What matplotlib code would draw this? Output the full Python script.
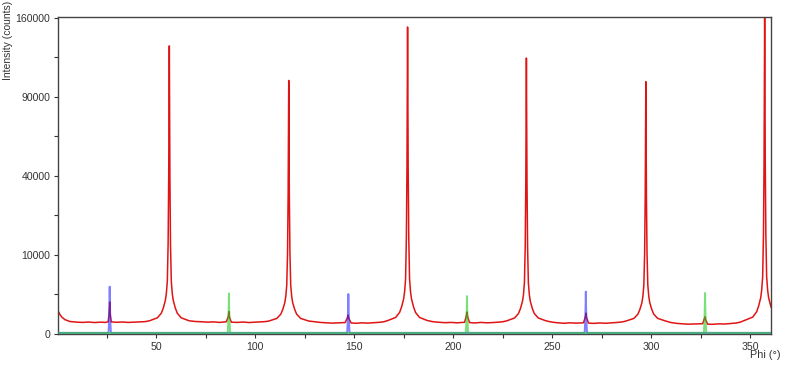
import numpy as np
import matplotlib
matplotlib.use("Agg")
import matplotlib.pyplot as plt
from matplotlib.ticker import FixedLocator

plt.rcParams['font.family'] = ['Liberation Sans', 'DejaVu Sans']

# red scan (phi in degrees, intensity in counts)
red_phi = [0.5, 1.5, 2.5, 4.0, 6.5, 10.0, 13.0, 16.0, 19.0, 22.0, 24.5,
           25.8, 26.3, 26.6, 26.9, 27.4, 30.0, 33.0, 36.0, 39.0, 42.0, 44.5,
           46.7, 50.7, 52.7, 53.7, 54.7, 55.2, 55.7, 56.1, 56.4, 56.6, 56.7,
           56.8, 57.0, 57.3, 57.7, 58.2, 58.7, 59.7, 60.7, 62.7, 66.7,
           70.0, 73.0, 76.0, 79.0, 82.0, 85.5, 86.5, 86.8, 87.1, 88.0,
           91.0, 94.0, 97.0, 100.0, 103.0, 105.0,
           107.0, 111.0, 113.0, 114.0, 115.0, 115.5, 116.0, 116.4, 116.7, 116.9, 117.0,
           117.1, 117.3, 117.6, 118.0, 118.5, 119.0, 120.0, 121.0, 123.0, 127.0,
           130.0, 133.0, 136.0, 139.0, 142.0, 145.5, 146.7, 147.0, 147.3, 148.5,
           151.0, 154.0, 157.0, 160.0, 163.0, 165.0,
           167.0, 171.0, 173.0, 174.0, 175.0, 175.5, 176.0, 176.4, 176.7, 176.9, 177.0,
           177.1, 177.3, 177.6, 178.0, 178.5, 179.0, 180.0, 181.0, 183.0, 187.0,
           190.0, 193.0, 196.0, 199.0, 202.0, 205.8, 206.7, 207.0, 207.3, 208.3,
           211.0, 214.0, 217.0, 220.0, 223.0, 225.0,
           227.0, 231.0, 233.0, 234.0, 235.0, 235.5, 236.0, 236.4, 236.7, 236.9, 237.0,
           237.1, 237.3, 237.6, 238.0, 238.5, 239.0, 240.0, 241.0, 243.0, 247.0,
           250.0, 253.0, 256.0, 259.0, 262.0, 265.8, 266.8, 267.1, 267.4, 268.4,
           271.0, 274.0, 277.0, 280.0, 283.0, 285.5,
           287.3, 291.3, 293.3, 294.3, 295.3, 295.8, 296.3, 296.7, 297.0, 297.2, 297.3,
           297.4, 297.6, 297.9, 298.3, 298.8, 299.3, 300.3, 301.3, 303.3, 307.3,
           310.0, 313.0, 316.0, 319.0, 322.0, 326.0, 326.9, 327.2, 327.5, 328.5,
           331.0, 334.0, 337.0, 340.0, 343.0, 345.0,
           347.3, 351.3, 353.3, 354.3, 355.3, 355.8, 356.3, 356.7, 357.0, 357.2, 357.3,
           357.4, 357.6, 357.9, 358.3, 358.8, 359.3, 360.5]
red_cnt = [870, 600, 450, 330, 250, 225, 215, 230, 210, 225, 215,
           240, 600, 1640, 600, 235, 220, 230, 215, 225, 235, 245,
           280, 420, 700, 1100, 1800, 2600, 4500, 13000, 40000, 98000, 133000,
           98000, 40000, 13000, 4500, 2600, 1800, 1100, 700, 420, 280,
           250, 240, 225, 235, 215, 240, 500, 800, 450, 225,
           215, 230, 210, 225, 235, 245,
           270, 390, 630, 970, 1560, 2240, 3850, 10500, 31000, 76000, 103000,
           76000, 31000, 10500, 3850, 2240, 1560, 970, 630, 390, 270,
           240, 215, 200, 190, 200, 210, 450, 580, 400, 195,
           185, 200, 190, 205, 220, 240,
           290, 440, 750, 1190, 1960, 2840, 4900, 15000, 45000, 110000, 151000,
           110000, 45000, 15000, 4900, 2840, 1960, 1190, 750, 440, 290,
           240, 220, 205, 215, 200, 220, 550, 780, 480, 210,
           195, 215, 200, 210, 225, 240,
           275, 410, 670, 1040, 1690, 2430, 4200, 12000, 37000, 90000, 122000,
           90000, 37000, 12000, 4200, 2430, 1690, 1040, 670, 410, 275,
           225, 200, 185, 200, 190, 200, 480, 700, 420, 190,
           180, 195, 185, 200, 215, 235,
           270, 390, 630, 970, 1560, 2240, 3850, 10500, 31000, 75000, 102000,
           75000, 31000, 10500, 3850, 2240, 1560, 970, 630, 390, 270,
           210, 180, 165, 155, 160, 170, 380, 480, 330, 155,
           150, 165, 160, 175, 195, 225,
           300, 460, 800, 1280, 2100, 3100, 5300, 16000, 48000, 118000, 162000,
           118000, 48000, 16000, 5300, 3100, 2100, 1170]

# blue scan
blue_phi = [0.5, 26.0, 26.3, 26.5, 26.6, 26.7, 26.9, 27.2,
            146.5, 146.8, 147.0, 147.1, 147.2, 147.4, 147.7,
            266.4, 266.7, 266.9, 267.0, 267.1, 267.3, 267.6, 360.5]
blue_cnt = [2, 2, 300, 1800, 3590, 1800, 300, 2,
            2, 260, 1300, 2560, 1300, 260, 2,
            2, 290, 1450, 2870, 1450, 290, 2, 2]

# green scan
green_phi = [0.5, 86.2, 86.5, 86.7, 86.8, 86.9, 87.1, 87.4,
             206.4, 206.7, 206.9, 207.0, 207.1, 207.3, 207.6,
             326.6, 326.9, 327.1, 327.2, 327.3, 327.5, 327.8, 360.5]
green_cnt = [2, 2, 260, 1320, 2650, 1320, 260, 2,
             2, 230, 1150, 2300, 1150, 230, 2,
             2, 270, 1350, 2690, 1350, 270, 2, 2]

y_major = [0, 10000, 40000, 90000, 160000]
y_minor = [2500, 22500, 62500, 122500]
x_major = [50, 100, 150, 200, 250, 300, 350]
x_minor = [25, 75, 125, 175, 225, 275, 325]


def fwd(y):
    return np.sqrt(np.clip(y, 0, None))


def inv(y):
    return np.asarray(y) ** 2


fig = plt.figure(figsize=(7.98, 3.68), dpi=100)
ax = fig.add_axes([58 / 798, 1 - 334 / 368, (771 - 58) / 798, (334 - 17) / 368])

ax.plot(red_phi, red_cnt, color='#e01414', lw=1.1, zorder=2)
ax.plot(blue_phi, blue_cnt, color='#2a2aff', lw=1.4, alpha=0.6, zorder=3)
ax.plot(green_phi, green_cnt, color='#22cc22', lw=1.4, alpha=0.6, zorder=3)

ax.set_yscale('function', functions=(fwd, inv))
ax.set_xlim(0.5, 360.5)
ax.set_ylim(0, 161000)

ax.yaxis.set_major_locator(FixedLocator(y_major))
ax.yaxis.set_minor_locator(FixedLocator(y_minor))
ax.xaxis.set_major_locator(FixedLocator(x_major))
ax.xaxis.set_minor_locator(FixedLocator(x_minor))
ax.set_yticklabels([str(v) for v in y_major])
ax.set_xticklabels([str(v) for v in x_major])

ax.tick_params(which='both', direction='out', length=3, width=0.8,
               color='#333333', labelsize=7.6, labelcolor='#333333', pad=2.5)
for s in ax.spines.values():
    s.set_color('#444444')
    s.set_linewidth(1.0)

fig.text(8 / 798, 1 - 1 / 368, 'Intensity (counts)', rotation=90, ha='center',
         va='top', fontsize=7.5, color='#333333')
fig.text(765 / 798, 1 - 355 / 368, 'Phi (°)', ha='center', va='center',
         fontsize=7.8, color='#333333')

fig.savefig('out.png', dpi=100)
